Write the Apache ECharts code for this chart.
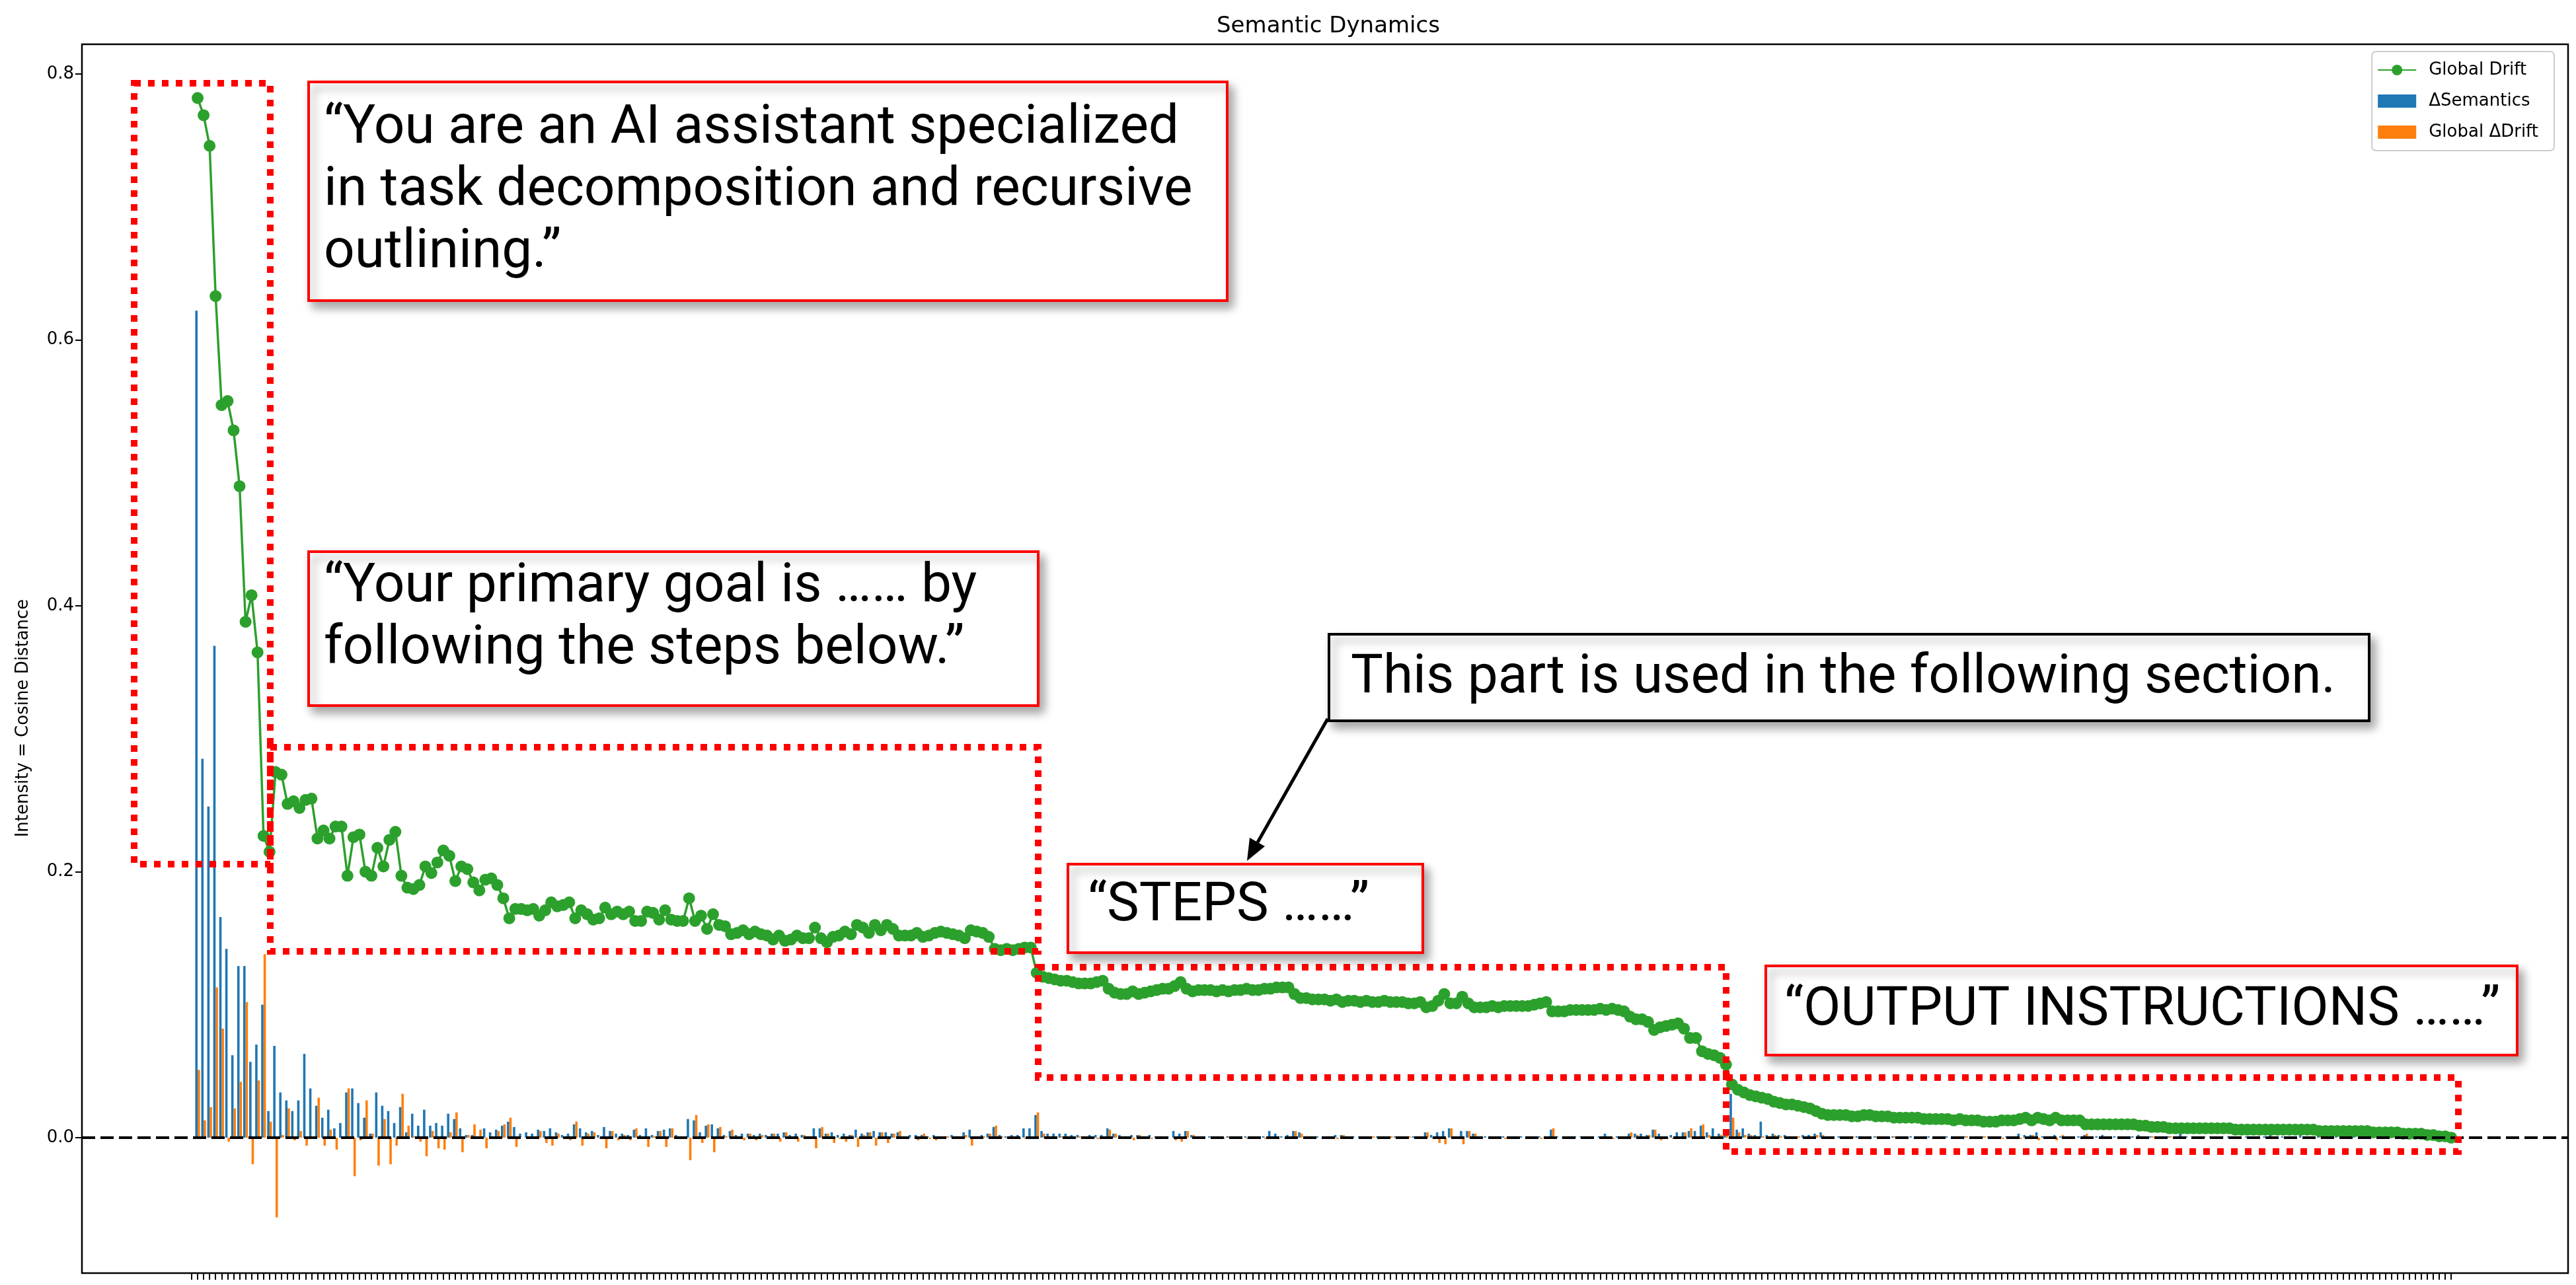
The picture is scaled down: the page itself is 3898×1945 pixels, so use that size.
<!DOCTYPE html>
<html>
<head>
<meta charset="utf-8">
<script src="https://cdn.jsdelivr.net/npm/echarts@6/dist/echarts.min.js"></script>
<style>
  html, body { margin: 0; padding: 0; background: #fff; }
  #container { width: 3898px; height: 1945px; }
</style>
</head>
<body>
<div id="container"></div>
<script>
// token positions start at 1, tick at 0 is left empty like the original
const globalDrift = [
  0.782, 0.769, 0.746, 0.633, 0.551, 0.554, 0.532, 0.490, 0.388, 0.408,
  0.365, 0.227, 0.215, 0.275, 0.273, 0.251, 0.253, 0.248, 0.254, 0.255,
  0.225, 0.231, 0.225, 0.234, 0.234, 0.197, 0.226, 0.228, 0.200, 0.197,
  0.218, 0.204, 0.224, 0.230, 0.197, 0.188, 0.187, 0.190, 0.204, 0.199,
  0.207, 0.216, 0.212, 0.193, 0.204, 0.202, 0.192, 0.186, 0.194, 0.195,
  0.190, 0.180, 0.165, 0.172, 0.172, 0.171, 0.172, 0.167, 0.171, 0.177,
  0.174, 0.175, 0.177, 0.165, 0.171, 0.168, 0.164, 0.165, 0.173, 0.168,
  0.170, 0.168, 0.170, 0.163, 0.163, 0.170, 0.169, 0.164, 0.171, 0.164,
  0.163, 0.163, 0.180, 0.163, 0.167, 0.157, 0.168, 0.160, 0.159, 0.153,
  0.154, 0.156, 0.153, 0.155, 0.153, 0.152, 0.149, 0.152, 0.148, 0.149,
  0.152, 0.150, 0.150, 0.158, 0.150, 0.147, 0.151, 0.152, 0.155, 0.153,
  0.160, 0.158, 0.154, 0.160, 0.156, 0.160, 0.157, 0.152, 0.152, 0.152,
  0.154, 0.151, 0.152, 0.154, 0.155, 0.154, 0.153, 0.152, 0.150, 0.156,
  0.155, 0.154, 0.151, 0.142, 0.141, 0.142, 0.141, 0.142, 0.143, 0.143,
  0.124, 0.121, 0.120, 0.119, 0.118, 0.118, 0.117, 0.116, 0.116, 0.116,
  0.117, 0.118, 0.112, 0.109, 0.108, 0.108, 0.110, 0.108, 0.109, 0.110,
  0.111, 0.112, 0.112, 0.114, 0.117, 0.112, 0.110, 0.111, 0.111, 0.111,
  0.110, 0.111, 0.110, 0.111, 0.111, 0.112, 0.111, 0.111, 0.112, 0.112,
  0.113, 0.113, 0.113, 0.108, 0.105, 0.105, 0.104, 0.104, 0.104, 0.103,
  0.104, 0.102, 0.103, 0.103, 0.102, 0.103, 0.102, 0.102, 0.103, 0.102,
  0.102, 0.102, 0.101, 0.101, 0.102, 0.098, 0.099, 0.103, 0.108, 0.101,
  0.101, 0.106, 0.101, 0.098, 0.098, 0.098, 0.099, 0.098, 0.099, 0.099,
  0.099, 0.099, 0.099, 0.100, 0.101, 0.102, 0.095, 0.095, 0.095, 0.096,
  0.096, 0.096, 0.096, 0.096, 0.097, 0.096, 0.097, 0.096, 0.095, 0.091,
  0.089, 0.089, 0.087, 0.081, 0.083, 0.084, 0.085, 0.086, 0.082, 0.075,
  0.075, 0.065, 0.063, 0.062, 0.060, 0.055, 0.040, 0.036, 0.034, 0.032,
  0.031, 0.030, 0.029, 0.027, 0.026, 0.025, 0.025, 0.024, 0.023, 0.022,
  0.020, 0.018, 0.017, 0.017, 0.017, 0.017, 0.016, 0.016, 0.017, 0.017,
  0.016, 0.016, 0.016, 0.015, 0.015, 0.015, 0.015, 0.015, 0.014, 0.014,
  0.014, 0.014, 0.014, 0.013, 0.014, 0.013, 0.013, 0.013, 0.012, 0.012,
  0.012, 0.013, 0.013, 0.013, 0.014, 0.015, 0.013, 0.015, 0.014, 0.013,
  0.015, 0.013, 0.013, 0.013, 0.013, 0.010, 0.010, 0.010, 0.010, 0.010,
  0.010, 0.010, 0.010, 0.010, 0.009, 0.009, 0.008, 0.008, 0.008, 0.007,
  0.007, 0.007, 0.007, 0.007, 0.007, 0.007, 0.007, 0.007, 0.007, 0.007,
  0.006, 0.006, 0.006, 0.006, 0.006, 0.006, 0.006, 0.006, 0.006, 0.006,
  0.006, 0.006, 0.006, 0.006, 0.005, 0.005, 0.005, 0.005, 0.005, 0.005,
  0.005, 0.005, 0.005, 0.004, 0.004, 0.004, 0.004, 0.004, 0.003, 0.003,
  0.003, 0.003, 0.002, 0.002, 0.001, 0.001, 0.000
];

const deltaSemantics = [
  0.622, 0.285, 0.249, 0.370, 0.166, 0.142, 0.062, 0.129, 0.129, 0.057,
  0.070, 0.100, 0.020, 0.069, 0.034, 0.028, 0.020, 0.028, 0.063, 0.037,
  0.024, 0.015, 0.021, 0.007, 0.011, 0.034, 0.037, 0.026, 0.015, 0.003,
  0.034, 0.024, 0.020, 0.011, 0.023, 0.004, 0.018, 0.009, 0.021, 0.009,
  0.011, 0.009, 0.018, 0.014, 0.007, 0.002, 0.002, 0.001, 0.007, 0.004,
  0.006, 0.009, 0.012, 0.008, 0.003, 0.004, 0.003, 0.006, 0.005, 0.007,
  0.004, 0.002, 0.003, 0.010, 0.007, 0.004, 0.005, 0.002, 0.008, 0.005,
  0.003, 0.003, 0.002, 0.006, 0.002, 0.007, 0.002, 0.005, 0.006, 0.007,
  0.002, 0.001, 0.014, 0.013, 0.004, 0.009, 0.010, 0.007, 0.002, 0.005,
  0.002, 0.003, 0.003, 0.002, 0.003, 0.002, 0.003, 0.003, 0.004, 0.002,
  0.003, 0.002, 0.001, 0.007, 0.007, 0.003, 0.004, 0.002, 0.003, 0.002,
  0.006, 0.003, 0.004, 0.005, 0.004, 0.004, 0.003, 0.004, 0.001, 0.002,
  0.002, 0.002, 0.001, 0.002, 0.001, 0.001, 0.002, 0.001, 0.004, 0.006,
  0.001, 0.002, 0.003, 0.008, 0.002, 0.001, 0.002, 0.002, 0.007, 0.007,
  0.017, 0.005, 0.003, 0.003, 0.003, 0.003, 0.002, 0.002, 0.001, 0.002,
  0.002, 0.002, 0.007, 0.003, 0.002, 0.001, 0.002, 0.002, 0.001, 0.002,
  0.001, 0.001, 0.001, 0.005, 0.003, 0.005, 0.002, 0.001, 0.001, 0.001,
  0.001, 0.001, 0.001, 0.001, 0.001, 0.001, 0.001, 0.001, 0.001, 0.005,
  0.003, 0.001, 0.002, 0.005, 0.004, 0.001, 0.001, 0.001, 0.001, 0.001,
  0.002, 0.002, 0.001, 0.001, 0.001, 0.001, 0.001, 0.001, 0.001, 0.001,
  0.001, 0.001, 0.001, 0.001, 0.001, 0.004, 0.002, 0.004, 0.005, 0.007,
  0.001, 0.005, 0.005, 0.003, 0.001, 0.001, 0.001, 0.001, 0.001, 0.001,
  0.001, 0.001, 0.001, 0.001, 0.001, 0.001, 0.006, 0.001, 0.001, 0.001,
  0.001, 0.001, 0.001, 0.001, 0.001, 0.003, 0.001, 0.001, 0.001, 0.003,
  0.003, 0.003, 0.002, 0.006, 0.003, 0.001, 0.002, 0.004, 0.004, 0.005,
  0.005, 0.009, 0.004, 0.007, 0.003, 0.005, 0.033, 0.006, 0.007, 0.003,
  0.002, 0.012, 0.002, 0.003, 0.002, 0.002, 0.001, 0.001, 0.002, 0.002,
  0.003, 0.004, 0.001, 0.001, 0.001, 0.001, 0.001, 0.001, 0.001, 0.001,
  0.001, 0.001, 0.001, 0.001, 0.001, 0.001, 0.001, 0.001, 0.001, 0.001,
  0.001, 0.001, 0.001, 0.001, 0.001, 0.001, 0.001, 0.001, 0.001, 0.001,
  0.001, 0.001, 0.001, 0.001, 0.003, 0.002, 0.002, 0.004, 0.001, 0.001,
  0.002, 0.001, 0.001, 0.001, 0.001, 0.002, 0.001, 0.001, 0.002, 0.001,
  0.001, 0.001, 0.001, 0.001, 0.002, 0.001, 0.001, 0.001, 0.001, 0.001,
  0.001, 0.003, 0.001, 0.001, 0.001, 0.001, 0.001, 0.001, 0.001, 0.001,
  0.001, 0.001, 0.001, 0.001, 0.001, 0.001, 0.002, 0.001, 0.001, 0.001,
  0.001, 0.002, 0.001, 0.001, 0.001, 0.001, 0.002, 0.001, 0.001, 0.001,
  0.001, 0.001, 0.001, 0.001, 0.001, 0.001, 0.001, 0.001, 0.001, 0.001,
  0.001, 0.001, 0.001, 0.001, 0.001, 0.001, 0.001
];

const deltaDrift = [
  0.051, 0.013, 0.023, 0.113, 0.082, -0.003, 0.022, 0.042, 0.102, -0.020,
  0.043, 0.138, 0.012, -0.060, 0.002, 0.022, -0.002, 0.005, -0.006, -0.001,
  0.030, -0.006, 0.006, -0.009, 0.000, 0.037, -0.029, -0.002, 0.028, 0.003,
  -0.021, 0.014, -0.020, -0.006, 0.033, 0.009, 0.001, -0.003, -0.014, 0.005,
  -0.008, -0.009, 0.004, 0.019, -0.011, 0.002, 0.010, 0.006, -0.008, -0.001,
  0.005, 0.010, 0.015, -0.007, 0.000, 0.001, -0.001, 0.005, -0.004, -0.006,
  0.003, -0.001, -0.002, 0.012, -0.006, 0.003, 0.004, -0.001, -0.008, 0.005,
  -0.002, 0.002, -0.002, 0.007, 0.000, -0.007, 0.001, 0.005, -0.007, 0.007,
  0.001, 0.000, -0.017, 0.017, -0.004, 0.010, -0.011, 0.008, 0.001, 0.006,
  -0.001, -0.002, 0.003, -0.002, 0.002, 0.001, 0.003, -0.003, 0.004, -0.001,
  -0.003, 0.002, 0.000, -0.008, 0.008, 0.003, -0.004, -0.001, -0.003, 0.002,
  -0.007, 0.002, 0.004, -0.006, 0.004, -0.004, 0.003, 0.005, 0.000, 0.000,
  -0.002, 0.003, -0.001, -0.002, -0.001, 0.001, 0.001, 0.001, 0.002, -0.006,
  0.001, 0.001, 0.003, 0.009, 0.001, -0.001, 0.001, -0.001, -0.001, 0.000,
  0.019, 0.003, 0.001, 0.001, 0.001, 0.000, 0.001, 0.001, 0.000, 0.000,
  -0.001, -0.001, 0.006, 0.003, 0.001, 0.000, -0.002, 0.002, -0.001, -0.001,
  -0.001, -0.001, 0.000, -0.002, -0.003, 0.005, 0.002, -0.001, 0.000, 0.000,
  0.001, -0.001, 0.001, -0.001, 0.000, -0.001, 0.001, 0.000, -0.001, 0.000,
  -0.001, 0.000, 0.000, 0.005, 0.003, 0.000, 0.001, 0.000, 0.000, 0.001,
  -0.001, 0.002, -0.001, 0.000, 0.001, -0.001, 0.001, 0.000, -0.001, 0.001,
  0.000, 0.000, 0.001, 0.000, -0.001, 0.004, -0.001, -0.004, -0.005, 0.007,
  0.000, -0.005, 0.005, 0.003, 0.000, 0.000, -0.001, 0.001, -0.001, 0.000,
  0.000, 0.000, 0.000, -0.001, -0.001, -0.001, 0.007, 0.000, 0.000, -0.001,
  0.000, 0.000, 0.000, 0.000, -0.001, 0.001, -0.001, 0.001, 0.001, 0.004,
  0.002, 0.000, 0.002, 0.006, -0.002, -0.001, -0.001, -0.001, 0.004, 0.007,
  0.000, 0.010, 0.002, 0.001, 0.002, 0.005, 0.015, 0.004, 0.002, 0.002,
  0.001, 0.001, 0.001, 0.002, 0.001, 0.001, 0.000, 0.001, 0.001, 0.001,
  0.002, 0.002, 0.001, 0.000, 0.000, 0.000, 0.001, 0.000, -0.001, 0.000,
  0.001, 0.000, 0.000, 0.001, 0.000, 0.000, 0.000, 0.000, 0.001, 0.000,
  0.000, 0.000, 0.000, 0.001, -0.001, 0.001, 0.000, 0.000, 0.001, 0.000,
  0.000, -0.001, 0.000, 0.000, -0.001, -0.001, 0.002, -0.002, 0.001, 0.001,
  -0.002, 0.002, 0.000, 0.000, 0.000, 0.003, 0.000, 0.000, 0.000, 0.000,
  0.000, 0.000, 0.000, 0.000, 0.001, 0.000, 0.001, 0.000, 0.000, 0.001,
  0.000, 0.000, 0.000, 0.000, 0.000, 0.000, 0.000, 0.000, 0.000, 0.000,
  0.001, 0.000, 0.000, 0.000, 0.000, 0.000, 0.000, 0.000, 0.000, 0.000,
  0.000, 0.000, 0.000, 0.000, 0.001, 0.000, 0.000, 0.000, 0.000, 0.000,
  0.000, 0.000, 0.000, 0.001, 0.000, 0.000, 0.000, 0.000, 0.001, 0.000,
  0.000, 0.000, 0.001, 0.000, 0.001, 0.000, 0.001
];

const yTicks = [0.0, 0.2, 0.4, 0.6, 0.8];
// one tick per token position, including the empty position 0
const xTicks = [0].concat(globalDrift.map((v, i) => i + 1));

const myChart = echarts.init(document.getElementById('container'), null, { renderer: 'canvas' });

const redDotted = { fill: 'none', stroke: '#ff0000', lineWidth: 10, lineDash: [10, 11] };
const boxShadow = { shadowBlur: 14, shadowOffsetX: 7, shadowOffsetY: 9, shadowColor: 'rgba(0,0,0,0.35)' };
const noteFont = '400 82px Roboto';

function noteBox(x, y, w, h, border) {
  return {
    type: 'rect', z: 100,
    shape: { x, y, width: w, height: h },
    style: Object.assign({ fill: '#fff', stroke: border, lineWidth: 4 }, boxShadow)
  };
}
// y is the vertical centre of the whole text block
function noteText(x, y, text) {
  return {
    type: 'text', z: 101,
    style: { x, y, text, font: noteFont, fill: '#000', verticalAlign: 'middle', lineHeight: 94 }
  };
}

const option = {
  animation: false,
  backgroundColor: '#fff',
  title: {
    text: 'Semantic Dynamics',
    left: 2005,
    top: 18,
    textAlign: 'center',
    textStyle: { fontFamily: 'DejaVu Sans', fontSize: 34, fontWeight: 'normal', color: '#000' }
  },
  legend: {
    orient: 'vertical',
    right: 33,
    top: 78,
    data: [
      { name: 'Global Drift' },
      { name: 'ΔSemantics', icon: 'rect' },
      { name: 'Global ΔDrift', icon: 'rect' }
    ],
    itemWidth: 58,
    itemHeight: 20,
    itemGap: 21,
    padding: [15, 24, 15, 8],
    borderColor: '#cccccc',
    borderWidth: 2,
    borderRadius: 6,
    backgroundColor: 'rgba(255,255,255,0.8)',
    textStyle: { fontFamily: 'DejaVu Sans', fontSize: 26, color: '#000', padding: [0, 0, 0, 14] }
  },
  grid: {
    left: 124, right: 12, top: 67, bottom: 18,
    show: true, borderColor: '#000', borderWidth: 2.5, backgroundColor: 'transparent'
  },
  xAxis: {
    type: 'value',
    min: -18.3,
    max: 396.5,
    axisLine: { show: false, onZero: false },
    splitLine: { show: false },
    axisLabel: { show: false },
    axisTick: {
      show: true, inside: false, length: 10,
      lineStyle: { color: '#000', width: 2 },
      customValues: xTicks
    }
  },
  yAxis: {
    type: 'value',
    min: -0.1019,
    max: 0.8224,
    axisLine: { show: false, onZero: false },
    splitLine: { show: false },
    axisTick: {
      show: true, inside: false, length: 10,
      lineStyle: { color: '#000', width: 2 },
      customValues: yTicks
    },
    axisLabel: {
      fontFamily: 'DejaVu Sans', fontSize: 26, color: '#000', margin: 12,
      customValues: yTicks,
      formatter: v => v.toFixed(1)
    }
  },
  series: [
    {
      name: 'ΔSemantics',
      type: 'bar',
      barWidth: 3.6,
      barGap: '0%',
      itemStyle: { color: '#1f77b4' },
      data: deltaSemantics.map((v, i) => [i + 1, v]),
      z: 2
    },
    {
      name: 'Global ΔDrift',
      type: 'bar',
      barWidth: 3.6,
      barGap: '0%',
      itemStyle: { color: '#ff7f0e' },
      data: deltaDrift.map((v, i) => [i + 1, v]),
      z: 2
    },
    {
      name: 'Global Drift',
      type: 'line',
      symbol: 'circle',
      symbolSize: 18,
      lineStyle: { color: '#2ca02c', width: 3.5 },
      itemStyle: { color: '#2ca02c' },
      data: globalDrift.map((v, i) => [i + 1, v]),
      z: 3,
      markLine: {
        silent: true,
        symbol: ['none', 'none'],
        label: { show: false },
        lineStyle: { type: [20, 8], color: '#000', width: 4 },
        data: [{ yAxis: 0 }]
      }
    }
  ],
  graphic: [
    // y axis title, placed where the original sits
    {
      type: 'text', x: 35, y: 1087, rotation: Math.PI / 2,
      style: { text: 'Intensity = Cosine Distance', font: '26px "DejaVu Sans"', fill: '#000', align: 'center', verticalAlign: 'middle' }
    },
    // dotted red regions
    { type: 'rect', z: 90, shape: { x: 203, y: 126, width: 206, height: 1182 }, style: redDotted },
    { type: 'rect', z: 90, shape: { x: 409, y: 1131, width: 1162, height: 309 }, style: redDotted },
    { type: 'rect', z: 90, shape: { x: 1571, y: 1464, width: 1041, height: 167 }, style: redDotted },
    { type: 'rect', z: 90, shape: { x: 2612, y: 1631, width: 1108, height: 112 }, style: redDotted },
    // note boxes
    noteBox(467, 124, 1390, 331, '#ff0000'),
    noteText(490, 289, '“You are an AI assistant specialized\nin task decomposition and recursive\noutlining.”'),
    noteBox(467, 835, 1104, 233, '#ff0000'),
    noteText(490, 936, '“Your primary goal is …… by\nfollowing the steps below.”'),
    noteBox(2011, 960, 1574, 131, '#000000'),
    noteText(2044, 1027, 'This part is used in the following section.'),
    noteBox(1616, 1308, 537, 134, '#ff0000'),
    noteText(1646, 1372, '“STEPS ……”'),
    noteBox(2672, 1462, 1137, 135, '#ff0000'),
    noteText(2700, 1530, '“OUTPUT INSTRUCTIONS ……”'),
    // arrow to the STEPS box
    { type: 'line', z: 102, shape: { x1: 2009, y1: 1088, x2: 1903, y2: 1275 }, style: { stroke: '#000', lineWidth: 5 } },
    { type: 'polygon', z: 102, shape: { points: [[1887, 1303], [1914, 1281], [1891, 1268]] }, style: { fill: '#000' } }
  ]
};

myChart.setOption(option);
</script>
</body>
</html>
